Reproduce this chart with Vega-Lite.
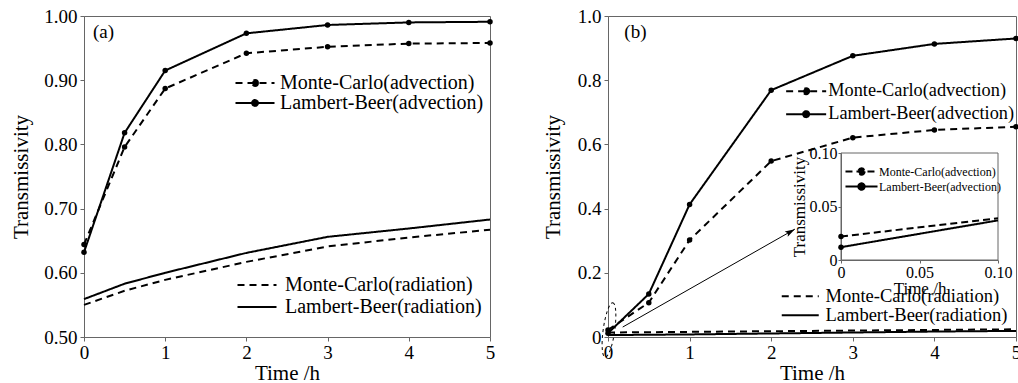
{
  "$schema": "https://vega.github.io/schema/vega-lite/v6.json",
  "padding": {"left": 10, "top": 6, "right": 0, "bottom": 0},
  "spacing": 45,
  "config": {
    "font": "Liberation Serif",
    "view": {"stroke": "#666", "strokeWidth": 1},
    "axis": {"grid": false, "domainColor": "#666", "tickColor": "#666", "tickSize": 4, "labelFontSize": 19, "labelColor": "black", "titleFontSize": 21, "titleFontWeight": "normal", "titleColor": "black", "labelFont": "Liberation Serif", "titleFont": "Liberation Serif", "labelFlush": false, "labelOverlap": false, "labelBound": false, "labelPadding": 3, "titlePadding": 3},
    "legend": {"labelFont": "Liberation Serif", "labelColor": "black", "labelLimit": 400, "padding": 0, "title": null, "symbolStrokeWidth": 2, "symbolStrokeColor": "black", "symbolFillColor": "black"},
    "text": {"font": "Liberation Serif"}
  },
  "datasets": {
    "one": [{"note": "annotation"}],
    "a": [
      {"kind": "adv", "series": "Monte-Carlo(advection)", "t": 0, "v": 0.644},
      {"kind": "adv", "series": "Monte-Carlo(advection)", "t": 0.5, "v": 0.796},
      {"kind": "adv", "series": "Monte-Carlo(advection)", "t": 1, "v": 0.887},
      {"kind": "adv", "series": "Monte-Carlo(advection)", "t": 2, "v": 0.942},
      {"kind": "adv", "series": "Monte-Carlo(advection)", "t": 3, "v": 0.952},
      {"kind": "adv", "series": "Monte-Carlo(advection)", "t": 4, "v": 0.957},
      {"kind": "adv", "series": "Monte-Carlo(advection)", "t": 5, "v": 0.958},
      {"kind": "adv", "series": "Lambert-Beer(advection)", "t": 0, "v": 0.632},
      {"kind": "adv", "series": "Lambert-Beer(advection)", "t": 0.5, "v": 0.818},
      {"kind": "adv", "series": "Lambert-Beer(advection)", "t": 1, "v": 0.915},
      {"kind": "adv", "series": "Lambert-Beer(advection)", "t": 2, "v": 0.973},
      {"kind": "adv", "series": "Lambert-Beer(advection)", "t": 3, "v": 0.986},
      {"kind": "adv", "series": "Lambert-Beer(advection)", "t": 4, "v": 0.990},
      {"kind": "adv", "series": "Lambert-Beer(advection)", "t": 5, "v": 0.991},
      {"kind": "rad", "series": "Monte-Carlo(radiation)", "t": 0, "v": 0.550},
      {"kind": "rad", "series": "Monte-Carlo(radiation)", "t": 0.5, "v": 0.572},
      {"kind": "rad", "series": "Monte-Carlo(radiation)", "t": 1, "v": 0.589},
      {"kind": "rad", "series": "Monte-Carlo(radiation)", "t": 2, "v": 0.617},
      {"kind": "rad", "series": "Monte-Carlo(radiation)", "t": 3, "v": 0.641},
      {"kind": "rad", "series": "Monte-Carlo(radiation)", "t": 4, "v": 0.655},
      {"kind": "rad", "series": "Monte-Carlo(radiation)", "t": 5, "v": 0.667},
      {"kind": "rad", "series": "Lambert-Beer(radiation)", "t": 0, "v": 0.559},
      {"kind": "rad", "series": "Lambert-Beer(radiation)", "t": 0.5, "v": 0.583},
      {"kind": "rad", "series": "Lambert-Beer(radiation)", "t": 1, "v": 0.600},
      {"kind": "rad", "series": "Lambert-Beer(radiation)", "t": 2, "v": 0.631},
      {"kind": "rad", "series": "Lambert-Beer(radiation)", "t": 3, "v": 0.656},
      {"kind": "rad", "series": "Lambert-Beer(radiation)", "t": 4, "v": 0.669},
      {"kind": "rad", "series": "Lambert-Beer(radiation)", "t": 5, "v": 0.683}
    ],
    "b": [
      {"kind": "adv", "series": "Monte-Carlo(advection)", "t": 0, "v": 0.022},
      {"kind": "adv", "series": "Monte-Carlo(advection)", "t": 0.5, "v": 0.107},
      {"kind": "adv", "series": "Monte-Carlo(advection)", "t": 1, "v": 0.302},
      {"kind": "adv", "series": "Monte-Carlo(advection)", "t": 2, "v": 0.548},
      {"kind": "adv", "series": "Monte-Carlo(advection)", "t": 3, "v": 0.621},
      {"kind": "adv", "series": "Monte-Carlo(advection)", "t": 4, "v": 0.645},
      {"kind": "adv", "series": "Monte-Carlo(advection)", "t": 5, "v": 0.655},
      {"kind": "adv", "series": "Lambert-Beer(advection)", "t": 0, "v": 0.012},
      {"kind": "adv", "series": "Lambert-Beer(advection)", "t": 0.5, "v": 0.134},
      {"kind": "adv", "series": "Lambert-Beer(advection)", "t": 1, "v": 0.413},
      {"kind": "adv", "series": "Lambert-Beer(advection)", "t": 2, "v": 0.769},
      {"kind": "adv", "series": "Lambert-Beer(advection)", "t": 3, "v": 0.876},
      {"kind": "adv", "series": "Lambert-Beer(advection)", "t": 4, "v": 0.913},
      {"kind": "adv", "series": "Lambert-Beer(advection)", "t": 5, "v": 0.930},
      {"kind": "rad", "series": "Monte-Carlo(radiation)", "t": 0, "v": 0.014},
      {"kind": "rad", "series": "Monte-Carlo(radiation)", "t": 0.5, "v": 0.015},
      {"kind": "rad", "series": "Monte-Carlo(radiation)", "t": 1, "v": 0.016},
      {"kind": "rad", "series": "Monte-Carlo(radiation)", "t": 2, "v": 0.018},
      {"kind": "rad", "series": "Monte-Carlo(radiation)", "t": 3, "v": 0.020},
      {"kind": "rad", "series": "Monte-Carlo(radiation)", "t": 4, "v": 0.022},
      {"kind": "rad", "series": "Monte-Carlo(radiation)", "t": 5, "v": 0.024},
      {"kind": "rad", "series": "Lambert-Beer(radiation)", "t": 0, "v": 0.006},
      {"kind": "rad", "series": "Lambert-Beer(radiation)", "t": 0.5, "v": 0.007},
      {"kind": "rad", "series": "Lambert-Beer(radiation)", "t": 1, "v": 0.008},
      {"kind": "rad", "series": "Lambert-Beer(radiation)", "t": 2, "v": 0.011},
      {"kind": "rad", "series": "Lambert-Beer(radiation)", "t": 3, "v": 0.014},
      {"kind": "rad", "series": "Lambert-Beer(radiation)", "t": 4, "v": 0.017},
      {"kind": "rad", "series": "Lambert-Beer(radiation)", "t": 5, "v": 0.019}
    ],
    "inset": [
      {"series": "Monte-Carlo(advection)", "t": 0, "v": 0.022},
      {"series": "Monte-Carlo(advection)", "t": 0.1, "v": 0.039},
      {"series": "Lambert-Beer(advection)", "t": 0, "v": 0.012},
      {"series": "Lambert-Beer(advection)", "t": 0.1, "v": 0.037}
    ]
  },
  "hconcat": [
    {
      "width": 406,
      "height": 321,
      "layer": [
        {
          "data": {"name": "a"},
          "transform": [{"filter": "datum.kind == 'adv'"}],
          "mark": {"type": "line", "color": "black", "strokeWidth": 2, "point": {"filled": true, "size": 30, "color": "black", "opacity": 1}},
          "encoding": {
            "x": {"field": "t", "type": "quantitative", "scale": {"domain": [0, 5], "nice": false}, "axis": {"title": "Time /h", "values": [0, 1, 2, 3, 4, 5], "format": "d", "labelPadding": 2, "titlePadding": 0}},
            "y": {"field": "v", "type": "quantitative", "scale": {"domain": [0.5, 1], "nice": false, "zero": false}, "axis": {"title": "Transmissivity", "values": [0.5, 0.55, 0.6, 0.65, 0.7, 0.75, 0.8, 0.85, 0.9, 0.95, 1.0], "format": ".2f", "titlePadding": 12}},
            "strokeDash": {"field": "series", "type": "nominal", "scale": {"domain": ["Monte-Carlo(advection)", "Lambert-Beer(advection)"], "range": [[7, 5], [1, 0]]},
              "legend": {"orient": "none", "legendX": 161, "legendY": 57, "symbolType": "M -3 0 L 3 0 M 0.45 0 A 0.45 0.45 0 1 1 -0.45 0 A 0.45 0.45 0 1 1 0.45 0 Z", "symbolSize": 169, "labelFontSize": 20, "labelOffset": 15, "rowPadding": 0, "encode": {"symbols": {"update": {"fill": {"value": "black"}, "stroke": {"value": "black"}}}}}}
          }
        },
        {
          "data": {"name": "a"},
          "transform": [{"filter": "datum.kind == 'rad'"}],
          "mark": {"type": "line", "color": "black", "strokeWidth": 2},
          "encoding": {
            "x": {"field": "t", "type": "quantitative"},
            "y": {"field": "v", "type": "quantitative"},
            "strokeDash": {"field": "series", "type": "nominal", "scale": {"domain": ["Monte-Carlo(radiation)", "Lambert-Beer(radiation)"], "range": [[7, 5], [1, 0]]},
              "legend": {"orient": "none", "legendX": 163, "legendY": 259, "symbolType": "M -3 0 L 3 0", "symbolSize": 169, "labelFontSize": 20, "labelOffset": 18, "rowPadding": 2, "encode": {"symbols": {"update": {"stroke": {"value": "black"}}}}}}
          }
        },
        {
          "data": {"name": "one"},
          "mark": {"type": "text", "text": "(a)", "fontSize": 19, "align": "left", "baseline": "middle", "color": "black"},
          "encoding": {"x": {"datum": 0.11, "type": "quantitative"}, "y": {"datum": 0.975, "type": "quantitative"}}
        }
      ],
      "resolve": {"scale": {"strokeDash": "independent"}}
    },
    {
      "width": 408,
      "height": 321,
      "layer": [
        {
          "layer": [
            {
              "data": {"name": "b"},
              "transform": [{"filter": "datum.kind == 'adv'"}],
              "mark": {"type": "line", "color": "black", "strokeWidth": 2, "point": {"filled": true, "size": 30, "color": "black", "opacity": 1}},
              "encoding": {
                "x": {"field": "t", "type": "quantitative", "scale": {"domain": [0, 5], "nice": false}, "axis": {"orient": "bottom", "title": "Time /h", "values": [0, 1, 2, 3, 4, 5], "format": "d", "labelPadding": 2, "titlePadding": 0}},
                "y": {"field": "v", "type": "quantitative", "scale": {"domain": [0, 1], "nice": false}, "axis": {"orient": "left", "title": "Transmissivity", "values": [0, 0.1, 0.2, 0.3, 0.4, 0.5, 0.6, 0.7, 0.8, 0.9, 1.0], "labelExpr": "datum.value == 0 ? '0' : format(datum.value, '.1f')", "titlePadding": 14}},
                "strokeDash": {"field": "series", "type": "nominal", "scale": {"domain": ["Monte-Carlo(advection)", "Lambert-Beer(advection)"], "range": [[7, 5], [1, 0]]},
                  "legend": {"orient": "none", "legendX": 189, "legendY": 66, "symbolType": "M -3 0 L 3 0 M 0.45 0 A 0.45 0.45 0 1 1 -0.45 0 A 0.45 0.45 0 1 1 0.45 0 Z", "symbolSize": 178, "labelFontSize": 18.3, "labelOffset": 13, "rowPadding": 4, "encode": {"symbols": {"update": {"fill": {"value": "black"}, "stroke": {"value": "black"}}}}}}
              }
            },
            {
              "data": {"name": "b"},
              "transform": [{"filter": "datum.kind == 'rad'"}],
              "mark": {"type": "line", "color": "black", "strokeWidth": 2},
              "encoding": {
                "x": {"field": "t", "type": "quantitative"},
                "y": {"field": "v", "type": "quantitative"},
                "strokeDash": {"field": "series", "type": "nominal", "scale": {"domain": ["Monte-Carlo(radiation)", "Lambert-Beer(radiation)"], "range": [[7, 5], [1, 0]]},
                  "legend": {"orient": "none", "legendX": 183, "legendY": 271, "symbolType": "M -3 0 L 3 0", "symbolSize": 152, "labelFontSize": 18.5, "labelOffset": 16, "rowPadding": 0, "encode": {"symbols": {"update": {"stroke": {"value": "black"}}}}}}
              }
            },
            {
              "data": {"name": "one"},
              "mark": {"type": "rule", "color": "black", "strokeWidth": 1},
              "encoding": {"x": {"datum": 0.18, "type": "quantitative"}, "y": {"datum": 0.031, "type": "quantitative"}, "x2": {"datum": 2.29}, "y2": {"datum": 0.336}}
            },
            {
              "data": {"name": "one"},
              "mark": {"type": "point", "shape": "M 0 0 L -2 -0.6 L -1.6 0 L -2 0.6 Z", "size": 100, "filled": true, "color": "black", "opacity": 1, "angle": 330},
              "encoding": {"x": {"datum": 2.29, "type": "quantitative"}, "y": {"datum": 0.336, "type": "quantitative"}}
            },
            {
              "data": {"name": "one"},
              "mark": {"type": "point", "shape": "M 0 -1 A 0.21 1 0 1 1 0 1 A 0.21 1 0 1 1 0 -1 Z", "size": 3025, "filled": false, "color": "black", "strokeWidth": 1, "strokeDash": [3, 3], "opacity": 1, "angle": 8},
              "encoding": {"x": {"datum": 0.012, "type": "quantitative"}, "y": {"datum": 0.022, "type": "quantitative"}}
            },
            {
              "data": {"name": "one"},
              "mark": {"type": "text", "text": "(b)", "fontSize": 19, "align": "left", "baseline": "middle", "color": "black"},
              "encoding": {"x": {"datum": 0.2, "type": "quantitative"}, "y": {"datum": 0.95, "type": "quantitative"}}
            }
          ],
          "resolve": {"scale": {"strokeDash": "independent"}}
        },
        {
          "layer": [
            {
              "data": {"name": "one"},
              "mark": {"type": "rect", "fill": "white", "fillOpacity": 0, "stroke": "#666", "strokeWidth": 1},
              "encoding": {
                "x": {"datum": 0, "type": "quantitative", "scale": {"domain": [0, 0.1], "range": [233, 390], "nice": false, "zero": false},
                  "axis": {"orient": "bottom", "offset": -77, "title": "Time /h", "values": [0, 0.05, 0.1], "labelExpr": "datum.value == 0 ? '0' : format(datum.value, '.2f')", "labelFontSize": 16, "titleFontSize": 17, "tickSize": 3, "labelPadding": 1, "titlePadding": 0}},
                "x2": {"datum": 0.1},
                "y": {"datum": 0, "type": "quantitative", "scale": {"domain": [0, 0.1], "range": [244, 137], "nice": false, "zero": false},
                  "axis": {"orient": "left", "offset": -233, "title": "Transmissivity", "values": [0, 0.05, 0.1], "labelExpr": "datum.value == 0 ? '0' : format(datum.value, '.2f')", "labelFontSize": 16, "titleFontSize": 17, "tickSize": 3, "labelPadding": 1, "titlePadding": 1}},
                "y2": {"datum": 0.1}
              }
            },
            {
              "data": {"name": "inset"},
              "mark": {"type": "line", "color": "black", "strokeWidth": 2},
              "encoding": {
                "x": {"field": "t", "type": "quantitative"},
                "y": {"field": "v", "type": "quantitative"},
                "strokeDash": {"field": "series", "type": "nominal", "scale": {"domain": ["Monte-Carlo(advection)", "Lambert-Beer(advection)"], "range": [[7, 4], [1, 0]]},
                  "legend": {"orient": "none", "legendX": 247, "legendY": 149, "symbolType": "M -3 0 L 3 0 M 0.6 0 A 0.6 0.6 0 1 1 -0.6 0 A 0.6 0.6 0 1 1 0.6 0 Z", "symbolSize": 114, "labelFontSize": 12, "labelOffset": 11, "rowPadding": 0, "encode": {"symbols": {"update": {"fill": {"value": "black"}, "stroke": {"value": "black"}}}}}}
              }
            },
            {
              "data": {"name": "inset"},
              "transform": [{"filter": "datum.t == 0"}],
              "mark": {"type": "point", "filled": true, "size": 30, "color": "black", "opacity": 1},
              "encoding": {"x": {"field": "t", "type": "quantitative"}, "y": {"field": "v", "type": "quantitative"}}
            }
          ]
        }
      ],
      "resolve": {"scale": {"x": "independent", "y": "independent", "strokeDash": "independent"}, "axis": {"x": "independent", "y": "independent"}}
    }
  ]
}
